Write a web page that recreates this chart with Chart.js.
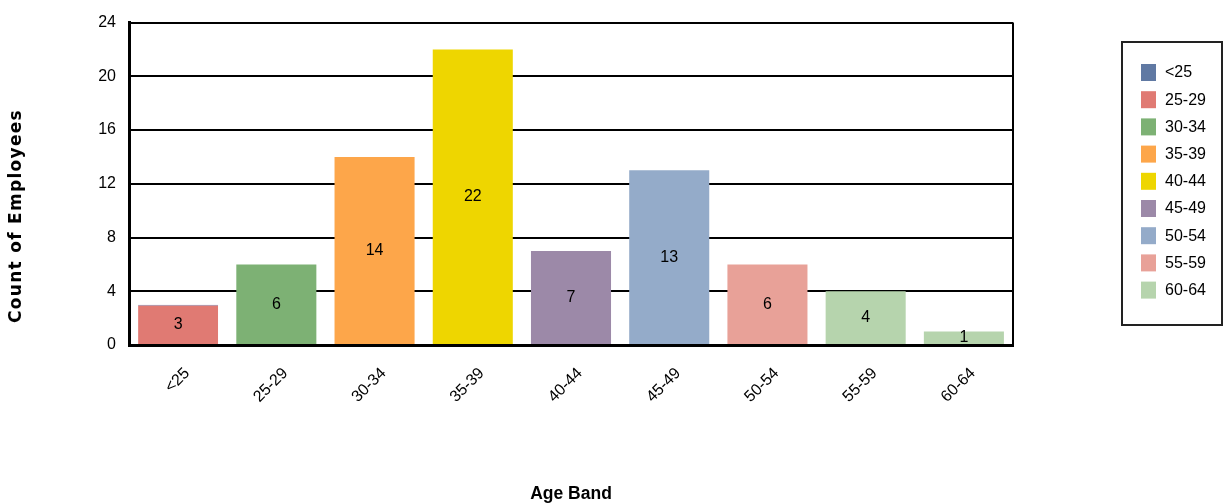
<!DOCTYPE html>
<html>
<head>
<meta charset="utf-8">
<script src="https://cdn.jsdelivr.net/npm/chart.js@4/dist/chart.umd.min.js"></script>
<style>
  html, body { margin: 0; padding: 0; background: #fff; }
  #wrap { width: 1224px; height: 503px; position: relative; }
</style>
</head>
<body>
<div id="wrap"><canvas id="myChart" width="1224" height="503"></canvas></div>
<script>
const ageBands = ["<25", "25-29", "30-34", "35-39", "40-44", "45-49", "50-54", "55-59", "60-64"];
const employeeCounts = [3, 6, 14, 22, 7, 13, 6, 4, 1];
const barColors = ["#e07a73", "#7db174", "#fda64a", "#eed600", "#9c89a8", "#94abc9", "#e8a198", "#b6d4ad", "#b6d4ad"];
const legendColors = ["#6079a3", "#e07a73", "#7db174", "#fda64a", "#eed600", "#9c89a8", "#94abc9", "#e8a198", "#b6d4ad"];
const yTicks = [0, 4, 8, 12, 16, 20, 24];

const FONT = "'Liberation Sans', Arial, sans-serif";

// values written in the middle of each bar
const barValues = {
  id: "barValues",
  afterDatasetsDraw(chart) {
    const ctx = chart.ctx;
    const meta = chart.getDatasetMeta(0);
    ctx.save();
    ctx.font = "16px " + FONT;
    ctx.fillStyle = "#000";
    ctx.textAlign = "center";
    ctx.textBaseline = "middle";
    meta.data.forEach((bar, i) => {
      const mid = (bar.y + bar.base) / 2;
      ctx.fillText(String(employeeCounts[i]), bar.x, mid);
    });
    ctx.restore();
  }
};

// right frame line, y title and framed legend
const frame = {
  id: "frame",
  afterDraw(chart) {
    const ctx = chart.ctx;
    const area = chart.chartArea;
    ctx.save();
    ctx.strokeStyle = "#000";
    ctx.lineWidth = 2;
    ctx.beginPath();
    ctx.moveTo(area.right, area.top);
    ctx.lineTo(area.right, area.bottom);
    ctx.stroke();

    // y axis title
    ctx.translate(17, 216);
    ctx.rotate(-Math.PI / 2);
    ctx.font = "bold 17px 'DejaVu Sans', " + FONT;
    ctx.letterSpacing = "1.3px";
    ctx.textAlign = "center";
    ctx.textBaseline = "middle";
    ctx.fillText("Count of Employees", 0, 0);
    ctx.restore();

    // legend
    ctx.save();
    ctx.strokeStyle = "#222";
    ctx.lineWidth = 2;
    ctx.strokeRect(1122, 42, 100, 283);
    ctx.font = "16px " + FONT;
    ctx.textBaseline = "middle";
    ctx.textAlign = "left";
    ageBands.forEach((band, i) => {
      const cy = 72 + i * 27.2;
      ctx.fillStyle = legendColors[i];
      ctx.fillRect(1141, cy - 8, 15, 17);
      ctx.fillStyle = "#000";
      ctx.fillText(band, 1165, cy + 1);
    });
    ctx.restore();
  }
};

const ctx = document.getElementById("myChart").getContext("2d");
new Chart(ctx, {
  type: "bar",
  data: {
    labels: ageBands,
    datasets: [
      {
        label: "Count of Employees",
        data: employeeCounts,
        backgroundColor: barColors,
        borderColor: "#8e86a8",
        borderWidth: (c) => (c.dataIndex === 0 ? { top: 1, left: 0, right: 0, bottom: 0 } : 0),
        barPercentage: 0.815,
        categoryPercentage: 1,
      },
    ],
  },
  options: {
    responsive: false,
    animation: false,
    devicePixelRatio: 1,
    layout: { padding: { top: 20, right: 211, left: 0, bottom: 0 } },
    plugins: {
      legend: { display: false },
      tooltip: { enabled: false },
    },
    scales: {
      x: {
        grid: { display: false, drawTicks: false },
        border: { display: true, color: "#000", width: 3 },
        ticks: {
          color: "#000",
          font: { family: FONT, size: 16 },
          maxRotation: 45,
          minRotation: 45,
          padding: 19,
          labelOffset: 9,
        },
        title: {
          display: true,
          text: "Age Band",
          color: "#000",
          font: { family: FONT, size: 17.5, weight: "bold" },
          padding: { top: 0, bottom: -2 },
        },
        afterFit: (scale) => { scale.height = 158; },
      },
      y: {
        min: 0,
        max: 24,
        afterBuildTicks: (scale) => { scale.ticks = yTicks.map((v) => ({ value: v })); },
        grid: { color: "#000", lineWidth: 2, drawTicks: false },
        border: { display: true, color: "#000", width: 3 },
        ticks: {
          color: "#000",
          font: { family: FONT, size: 16 },
          padding: 13,
        },
        afterFit: (scale) => { scale.width = 129; },
      },
    },
  },
  plugins: [barValues, frame],
});
</script>
</body>
</html>
